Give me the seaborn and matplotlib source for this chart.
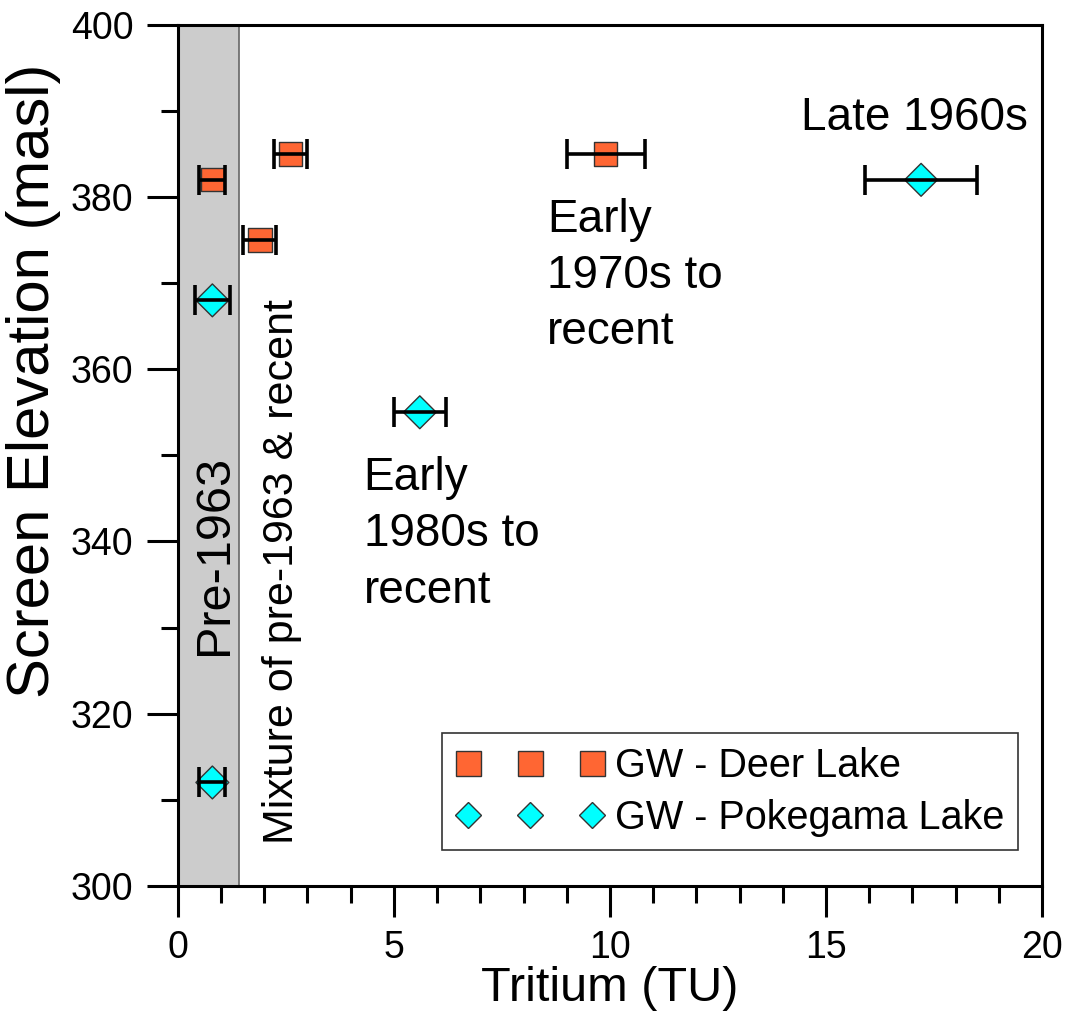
'''
Tritium vs screen elevation for groundwater wells at Deer Lake and
Pokegama Lake, with approximate recharge age brackets.
'''
import pandas as pd
import seaborn as sns
import matplotlib.pyplot as plt
import matplotlib.ticker as ticker
from matplotlib.lines import Line2D

# Deer Lake wells
deer_tritium = [0.8, 2.6, 1.9, 9.9]
deer_elev = [382, 385, 375, 385]
deer_err = [0.3, 0.38, 0.38, 0.9]

# Pokegama Lake wells
poke_tritium = [0.8, 0.8, 5.6, 17.2]
poke_elev = [368, 312, 355, 382]
poke_err = [0.4, 0.3, 0.6, 1.3]

series_names = ['GW - Deer Lake', 'GW - Pokegama Lake']
series_colors = ['#ff6633', '#00ffff']
series_markers = ['s', 'D']


def main():
    df = pd.DataFrame({
        'tritium': deer_tritium + poke_tritium,
        'elev': deer_elev + poke_elev,
        'err': deer_err + poke_err,
        'site': [series_names[0]] * 4 + [series_names[1]] * 4,
    })

    sns.set_theme(style='ticks', rc={'axes.edgecolor': 'black',
                                     'text.color': 'black',
                                     'axes.labelcolor': 'black',
                                     'xtick.color': 'black',
                                     'ytick.color': 'black'})
    plt.rcParams['font.family'] = ['Liberation Sans', 'DejaVu Sans']

    fig, ax = plt.subplots(figsize=(10.71, 10.36), dpi=100)
    fig.subplots_adjust(left=0.166, right=0.973, bottom=0.145, top=0.976)

    # Pre-1963 band
    ax.axvspan(0, 1.41, facecolor='#cccccc', edgecolor='#666666',
               linewidth=1.2, zorder=0)

    sns.scatterplot(data=df, x='tritium', y='elev', hue='site', style='site',
                    palette=dict(zip(series_names, series_colors)),
                    markers=dict(zip(series_names, series_markers)),
                    s=280, edgecolor='#333333', linewidth=1, zorder=3,
                    legend=False, ax=ax)

    # Horizontal error bars drawn over the markers
    ax.errorbar(df.tritium, df.elev, xerr=df.err, fmt='none', ecolor='black',
                elinewidth=2.6, capsize=11, capthick=2.6, zorder=4)

    ax.set_xlim(0, 20)
    ax.set_ylim(300, 400)
    ax.xaxis.set_major_locator(ticker.MultipleLocator(5))
    ax.xaxis.set_minor_locator(ticker.MultipleLocator(1))
    ax.yaxis.set_major_locator(ticker.MultipleLocator(20))
    ax.yaxis.set_minor_locator(ticker.MultipleLocator(10))
    ax.tick_params(which='major', length=22, width=2.2, labelsize=27,
                   direction='out', pad=10)
    ax.tick_params(which='minor', length=12, width=2.2, direction='out')
    for sp in ax.spines.values():
        sp.set_linewidth(2.2)
        sp.set_visible(True)

    ax.set_xlabel('Tritium (TU)', fontsize=35, labelpad=0)
    ax.set_ylabel('Screen Elevation (masl)', fontsize=43)
    ax.yaxis.set_label_coords(-0.135, 0.587)

    # Age bracket annotations
    ax.text(17.05, 389.2, 'Late 1960s', fontsize=33, ha='center', va='center')
    ax.text(8.55, 379.9, 'Early\n1970s to\nrecent', fontsize=33, ha='left',
            va='top', linespacing=1.36)
    ax.text(4.3, 349.9, 'Early\n1980s to\nrecent', fontsize=33, ha='left',
            va='top', linespacing=1.36)
    ax.text(0.84, 338.4, 'Pre-1963', fontsize=35, rotation=90,
            ha='center', va='center')
    ax.text(2.4, 336.5, 'Mixture of pre-1963 & recent', fontsize=31,
            rotation=90, ha='center', va='center')

    handles = [Line2D([], [], linestyle='none', marker=m, color=c,
                      markeredgecolor='#333333', markeredgewidth=1,
                      markersize=ms)
               for m, c, ms in zip(series_markers, series_colors, [18, 13])]
    leg = ax.legend(handles, series_names, loc='lower right',
                    bbox_to_anchor=(0.972, 0.041), numpoints=3,
                    handlelength=3.73, handletextpad=0.28, fontsize=28.5,
                    frameon=True, fancybox=False, edgecolor='black',
                    borderpad=0.35, labelspacing=0.35, borderaxespad=0)
    leg.get_frame().set_linewidth(1.2)

    plt.savefig('out.png', dpi=100)


if __name__ == '__main__':
    main()
